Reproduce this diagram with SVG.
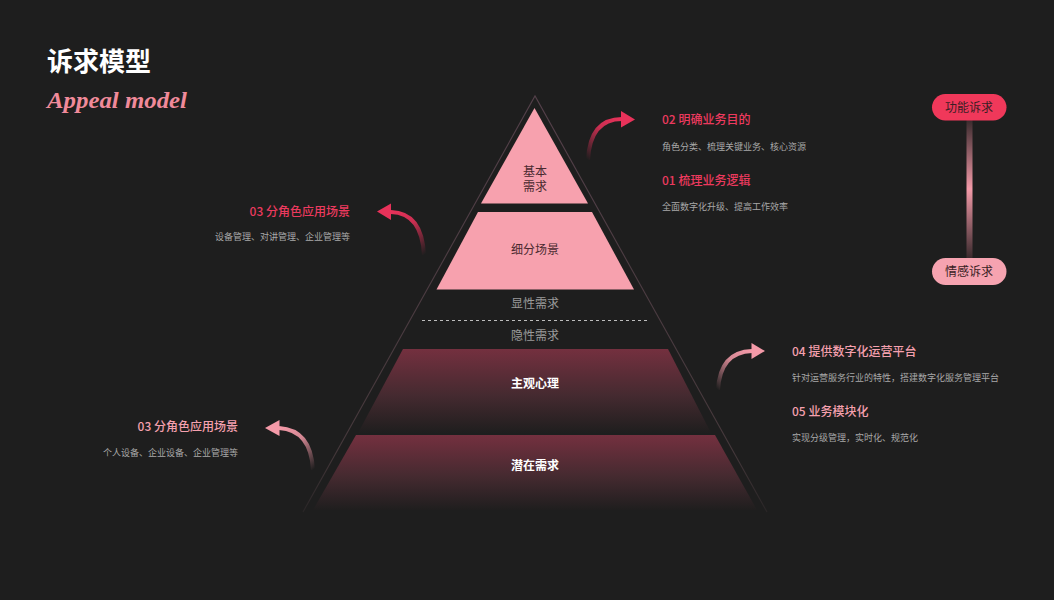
<svg xmlns="http://www.w3.org/2000/svg" width="1054" height="600" viewBox="0 0 1054 600">
<style>
text{font-family:"Noto Sans CJK SC","Noto Sans",sans-serif}
.title{font-size:26px;font-weight:700;fill:#ffffff}
.lvl{font-size:12px;fill:#4a2a30;text-anchor:middle}
.lvlw{font-size:12px;fill:#ffffff;font-weight:700;text-anchor:middle}
.div{font-size:12px;fill:#9a9a9a;text-anchor:middle}
.hr{font-size:12px;font-weight:500;fill:#ec3a5e}
.hp{font-size:12px;font-weight:500;fill:#f5a0ae}
.sub{font-size:9px;fill:#a8a8a8}
.pill{font-size:12px;fill:#3a1e24;text-anchor:middle}
</style>
<defs>
<linearGradient id="gDark" x1="0" y1="0" x2="0" y2="1">
<stop offset="0" stop-color="#74303f"/>
<stop offset="0.55" stop-color="#452a30"/>
<stop offset="1" stop-color="#1f1e1e"/>
</linearGradient>
<linearGradient id="gBar" x1="0" y1="0" x2="0" y2="1">
<stop offset="0" stop-color="#3a2a2d"/>
<stop offset="0.5" stop-color="#f39aa8"/>
<stop offset="1" stop-color="#3a2a2d"/>
</linearGradient>
<linearGradient id="a1" gradientUnits="userSpaceOnUse" x1="588" y1="160" x2="622" y2="118">
<stop offset="0" stop-color="#e8325a" stop-opacity="0"/>
<stop offset="0.6" stop-color="#e8325a" stop-opacity="0.85"/>
<stop offset="1" stop-color="#e8325a"/>
</linearGradient>
<linearGradient id="a2" gradientUnits="userSpaceOnUse" x1="424" y1="255" x2="391" y2="212">
<stop offset="0" stop-color="#e8325a" stop-opacity="0"/>
<stop offset="0.6" stop-color="#e8325a" stop-opacity="0.85"/>
<stop offset="1" stop-color="#e8325a"/>
</linearGradient>
<linearGradient id="a3" gradientUnits="userSpaceOnUse" x1="718" y1="390" x2="752" y2="351">
<stop offset="0" stop-color="#f49aa8" stop-opacity="0"/>
<stop offset="0.6" stop-color="#f49aa8" stop-opacity="0.85"/>
<stop offset="1" stop-color="#f49aa8"/>
</linearGradient>
<linearGradient id="a4" gradientUnits="userSpaceOnUse" x1="313" y1="470" x2="279" y2="428">
<stop offset="0" stop-color="#f49aa8" stop-opacity="0"/>
<stop offset="0.6" stop-color="#f49aa8" stop-opacity="0.85"/>
<stop offset="1" stop-color="#f49aa8"/>
</linearGradient>
<linearGradient id="outline" x1="0" y1="0" x2="0" y2="1">
<stop offset="0" stop-color="#54404a"/>
<stop offset="0.85" stop-color="#45383b"/>
<stop offset="1" stop-color="#2a2627"/>
</linearGradient>
</defs>
<rect width="1054" height="600" fill="#1e1e1e"/>

<g id="title">
<text class="title" x="47" y="71">诉求模型</text>
<text x="47" y="108" font-style="italic" font-weight="700" font-size="24" fill="#f08a9a" textLength="140" lengthAdjust="spacingAndGlyphs" style="font-family:'Liberation Serif',serif">Appeal model</text>
</g>

<g id="pyramid">
<polyline points="303,512 535,96 767,512" fill="none" stroke="url(#outline)" stroke-width="1.1"/>
<g id="level-basic">
<polygon points="534.5,108 481,203.5 588,203.5" fill="#f7a1ae"/>
<text class="lvl" x="535" y="176">基本</text>
<text class="lvl" x="535" y="191">需求</text>
</g>
<g id="level-scene">
<polygon points="478,212 592,212 634,289.5 436.5,289.5" fill="#f7a1ae"/>
<text class="lvl" x="535" y="254">细分场景</text>
</g>
<g id="divider">
<text class="div" x="535" y="308">显性需求</text>
<line x1="422" y1="320.5" x2="648" y2="320.5" stroke="#bdbdbd" stroke-width="1" stroke-dasharray="3,3"/>
<text class="div" x="535" y="340">隐性需求</text>
</g>
<g id="level-psych">
<polygon points="403,349 668,349 711,433 358,433" fill="url(#gDark)"/>
<text class="lvlw" x="535" y="388">主观心理</text>
</g>
<g id="level-latent">
<polygon points="356,435 715,435 757,510 313,510" fill="url(#gDark)"/>
<text class="lvlw" x="535" y="470">潜在需求</text>
</g>
</g>

<g id="connectors">
<path d="M588,160 Q590,119 622,119" fill="none" stroke="url(#a1)" stroke-width="4"/>
<polygon points="621,111 635,119.5 621,127.5" fill="#e8325a"/>
<path d="M424,255 Q422,213 391,212" fill="none" stroke="url(#a2)" stroke-width="4"/>
<polygon points="391,203.5 377,211.5 391,220" fill="#e8325a"/>
<path d="M718,390 Q720,352 752,351" fill="none" stroke="url(#a3)" stroke-width="4"/>
<polygon points="751.5,343 765,351 751.5,359" fill="#f49aa8"/>
<path d="M313,470 Q311,430 279,428" fill="none" stroke="url(#a4)" stroke-width="4"/>
<polygon points="279.5,420 265,428 279.5,436" fill="#f49aa8"/>
<rect x="966.5" y="120" width="6" height="138" fill="url(#gBar)"/>
</g>

<g id="label-02">
<text class="hr" x="662" y="124">02 明确业务目的</text>
<text class="sub" x="662" y="150">角色分类、梳理关键业务、核心资源</text>
</g>
<g id="label-01">
<text class="hr" x="662" y="185">01 梳理业务逻辑</text>
<text class="sub" x="662" y="210">全面数字化升级、提高工作效率</text>
</g>
<g id="label-03a">
<text class="hr" x="350" y="216" text-anchor="end">03 分角色应用场景</text>
<text class="sub" x="350" y="240" text-anchor="end">设备管理、对讲管理、企业管理等</text>
</g>
<g id="label-04">
<text class="hp" x="792" y="356">04 提供数字化运营平台</text>
<text class="sub" x="792" y="381">针对运营服务行业的特性，搭建数字化服务管理平台</text>
</g>
<g id="label-05">
<text class="hp" x="792" y="416">05 业务模块化</text>
<text class="sub" x="792" y="441">实现分级管理，实时化、规范化</text>
</g>
<g id="label-03b">
<text class="hp" x="238" y="431" text-anchor="end">03 分角色应用场景</text>
<text class="sub" x="238" y="456" text-anchor="end">个人设备、企业设备、企业管理等</text>
</g>

<g id="pill-functional">
<rect x="932" y="94" width="74.5" height="26.5" rx="13.25" fill="#f0385a"/>
<text class="pill" x="969" y="111.5">功能诉求</text>
</g>
<g id="pill-emotional">
<rect x="932" y="258" width="74.5" height="27" rx="13.5" fill="#f6a3b0"/>
<text class="pill" x="969" y="276">情感诉求</text>
</g>
</svg>
